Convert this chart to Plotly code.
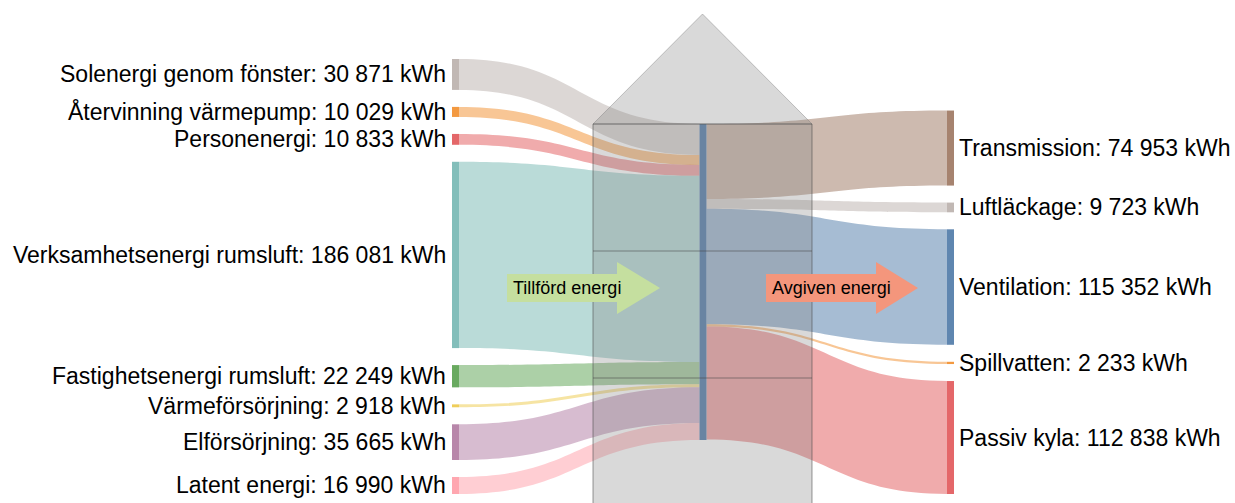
import plotly.graph_objects as go

# Data: inflöden (vänster), byggnaden (mitten), utflöden (höger)
in_labels = ["Solenergi genom fönster", "Återvinning värmepump", "Personenergi",
             "Verksamhetsenergi rumsluft", "Fastighetsenergi rumsluft",
             "Värmeförsörjning", "Elförsörjning", "Latent energi"]
in_values = [30871, 10029, 10833, 186081, 22249, 2918, 35665, 16990]

out_labels = ["Transmission", "Luftläckage", "Ventilation", "Spillvatten", "Passiv kyla"]
out_values = [74953, 9723, 115352, 2233, 112838]

hub_label = "Byggnad"
unit = "kWh"

in_colors = ["#bab0ac", "#f28e2b", "#e15759", "#76b7b2",
             "#59a14f", "#edc948", "#b07aa1", "#ff9da7"]
hub_color = "#4e79a7"
out_colors = ["#9c755f", "#bab0ac", "#4e79a7", "#f28e2b", "#e15759"]

# Geometri (pixlar)
W, H = 1235, 503
top, bottom = 59, 494
dom_h = bottom - top
pad = 17
thick = 7
x_left, x_hub, x_right = 455.5, 703, 950.5
hub_top = 124

FONT = "Liberation Sans, Arial, Helvetica, sans-serif"


def px_x(x):
    return x / W


def px_y(y):
    return 1 - y / H


def fmt(v):
    return f"{v:,}".replace(",", " ")


def rgba(hex_color, a):
    h = hex_color.lstrip("#")
    r, g, b = int(h[0:2], 16), int(h[2:4], 16), int(h[4:6], 16)
    return f"rgba({r},{g},{b},{a})"


# Nodpositioner (samma stapling som sankey-layouten)
ky = (dom_h - (len(in_values) - 1) * pad) / sum(in_values)

in_centers = []
y = 0
for v in in_values:
    h = v * ky
    in_centers.append(y + h / 2)
    y += h + pad

out_centers = []
y = dom_h - (sum(out_values) * ky + (len(out_values) - 1) * pad)
for v in out_values:
    h = v * ky
    out_centers.append(y + h / 2)
    y += h + pad

hub_center = (hub_top - top) + max(sum(in_values), sum(out_values)) * ky / 2

labels = in_labels + [hub_label] + out_labels
colors = [rgba(c, 0.9) for c in in_colors + [hub_color] + out_colors]
node_x = [px_x(x_left)] * len(in_labels) + [px_x(x_hub)] + [px_x(x_right)] * len(out_labels)
node_y = [c / dom_h for c in in_centers] + [hub_center / dom_h] + [c / dom_h for c in out_centers]

hub = len(in_labels)
sources, targets, values, link_colors = [], [], [], []
for i, v in enumerate(in_values):
    sources.append(i)
    targets.append(hub)
    values.append(v)
    link_colors.append(rgba(in_colors[i], 0.5))
for j, v in enumerate(out_values):
    sources.append(hub)
    targets.append(hub + 1 + j)
    values.append(v)
    link_colors.append(rgba(out_colors[j], 0.5))

fig = go.Figure(go.Sankey(
    arrangement="fixed",
    domain=dict(x=[0, 1], y=[px_y(bottom), px_y(top)]),
    node=dict(
        label=labels,
        color=colors,
        x=node_x,
        y=node_y,
        pad=pad,
        thickness=thick,
        line=dict(width=0),
    ),
    link=dict(source=sources, target=targets, value=values, color=link_colors),
    textfont=dict(color="rgba(0,0,0,0)", size=1),
))

# Nodetiketter
annotations = []
for lab, v, c in zip(in_labels, in_values, in_centers):
    annotations.append(dict(
        x=px_x(x_left - thick / 2 - 4), y=px_y(top + c), xref="paper", yref="paper",
        text=f"{lab}: {fmt(v)} {unit}", showarrow=False, xanchor="right", yanchor="middle",
        font=dict(family=FONT, size=23, color="#000000"),
    ))
for lab, v, c in zip(out_labels, out_values, out_centers):
    annotations.append(dict(
        x=px_x(x_right + thick / 2 + 3), y=px_y(top + c), xref="paper", yref="paper",
        text=f"{lab}: {fmt(v)} {unit}", showarrow=False, xanchor="left", yanchor="middle",
        font=dict(family=FONT, size=23, color="#000000"),
    ))

# Huset
hx0, hx1 = 593, 812
hmid = (hx0 + hx1) / 2
roof_top = 14
house_bottom = 512
shapes = []
roof = f"M {px_x(hx0)},{px_y(hub_top)} L {px_x(hmid)},{px_y(roof_top)} L {px_x(hx1)},{px_y(hub_top)} Z"
shapes.append(dict(type="path", path=roof, xref="paper", yref="paper", layer="above",
                   fillcolor="rgba(128,128,128,0.3)", line=dict(color="rgba(128,128,128,0.45)", width=1)))
shapes.append(dict(type="rect", xref="paper", yref="paper", layer="above",
                   x0=px_x(hx0), x1=px_x(hx1), y0=px_y(hub_top), y1=px_y(house_bottom),
                   fillcolor="rgba(128,128,128,0.3)", line=dict(color="rgba(70,70,70,0.55)", width=1)))
for wy in [251, 378]:
    shapes.append(dict(type="line", xref="paper", yref="paper", layer="above",
                       x0=px_x(hx0), x1=px_x(hx1), y0=px_y(wy), y1=px_y(wy),
                       line=dict(color="rgba(70,70,70,0.55)", width=1)))


# Pilar
def arrow(x0, x_head, x_tip, yc, color):
    b0, b1 = yc - 14, yc + 14
    h0, h1 = yc - 26, yc + 26
    pts = [(x0, b0), (x_head, b0), (x_head, h0), (x_tip, yc),
           (x_head, h1), (x_head, b1), (x0, b1)]
    path = "M " + " L ".join(f"{px_x(a)},{px_y(b)}" for a, b in pts) + " Z"
    return dict(type="path", path=path, xref="paper", yref="paper", layer="above",
                fillcolor=color, line=dict(width=0))


shapes.append(arrow(507, 617, 660, 288, "#c5df9f"))
shapes.append(arrow(766, 876, 918, 288, "#f4967c"))

annotations.append(dict(x=px_x(511), y=px_y(288), xref="paper", yref="paper",
                        text="Tillförd energi", showarrow=False, xanchor="left", yanchor="middle",
                        font=dict(family=FONT, size=18, color="#000000")))
annotations.append(dict(x=px_x(770), y=px_y(288), xref="paper", yref="paper",
                        text="Avgiven energi", showarrow=False, xanchor="left", yanchor="middle",
                        font=dict(family=FONT, size=18, color="#000000")))

fig.update_layout(
    width=W, height=H,
    margin=dict(l=0, r=0, t=0, b=0),
    paper_bgcolor="white",
    plot_bgcolor="white",
    shapes=shapes,
    annotations=annotations,
    font=dict(family=FONT),
    showlegend=False,
)

# sidans standardmarginal bort så att figuren fyller fönstret
fig.write_html(
    "out.html",
    config={"displayModeBar": False},
    post_script="document.body.style.margin='0';document.body.style.overflow='hidden';",
)
